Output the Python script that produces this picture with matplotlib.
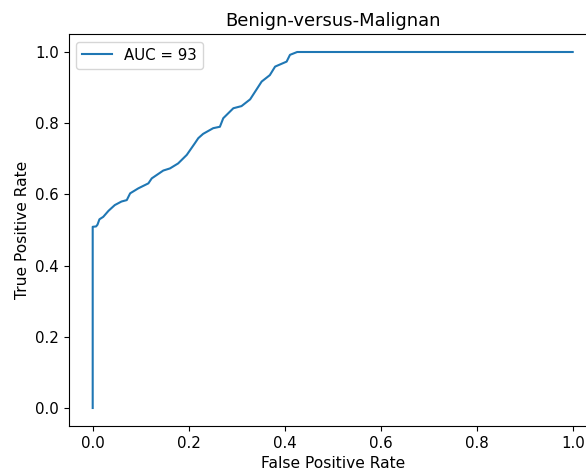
import matplotlib
matplotlib.use("Agg")
import matplotlib.pyplot as plt

# ROC points
fpr = [0.0, 0.0, 0.007, 0.010, 0.014, 0.022, 0.033, 0.046, 0.060, 0.071, 0.078,
       0.095, 0.116, 0.123, 0.147, 0.161, 0.178, 0.196, 0.213, 0.220, 0.230,
       0.251, 0.265, 0.272, 0.293, 0.310, 0.328, 0.352, 0.369, 0.380, 0.404,
       0.411, 0.426, 1.0]
tpr = [0.0, 0.509, 0.510, 0.515, 0.530, 0.537, 0.554, 0.570, 0.580, 0.584, 0.603,
       0.617, 0.631, 0.645, 0.667, 0.673, 0.687, 0.711, 0.744, 0.758, 0.770,
       0.786, 0.790, 0.814, 0.842, 0.848, 0.867, 0.917, 0.935, 0.959, 0.973,
       0.992, 1.0, 1.0]
auc_label = "AUC = 93"
title = "Benign-versus-Malignan"

plt.rcParams["font.size"] = 10.8

fig = plt.figure(figsize=(5.86, 4.76), dpi=100)
# axes runs past the right edge of the picture, as in the cropped original
ax = fig.add_axes([68.7 / 586, 50.2 / 476, 528 / 586, 391.6 / 476])
ax.plot(fpr, tpr, label=auc_label)
ax.set_xlim(-0.05, 1.05)
ax.set_ylim(-0.05, 1.05)
ax.set_xlabel("False Positive Rate", fontsize=11.2)
ax.set_ylabel("True Positive Rate", fontsize=11.2)
ax.set_title(title, fontsize=12.9)
ax.legend(loc="upper left")

fig.savefig("out.png", dpi=100)
